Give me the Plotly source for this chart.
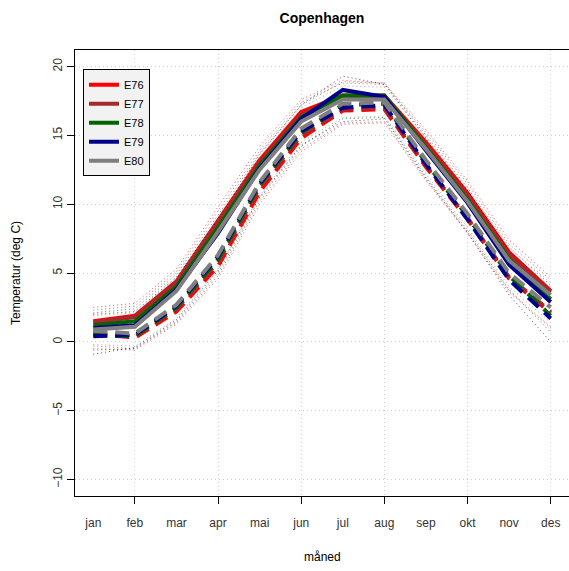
import plotly.graph_objects as go

months = ["jan", "feb", "mar", "apr", "mai", "jun", "jul", "aug", "sep", "okt", "nov", "des"]
month_idx = list(range(1, 13))
even_idx = [2, 4, 6, 8, 10, 12]
y_ticks = [-10, -5, 0, 5, 10, 15, 20]

series_names = ["E76", "E77", "E78", "E79", "E80"]
series_colors = ["#FF0000", "#A52A2A", "#006400", "#00008B", "#7F7F7F"]
dot_colors = ["rgba(255,0,0,0.7)", "rgba(165,42,42,0.7)", "rgba(0,100,0,0.7)",
              "rgba(0,0,139,0.7)", "rgba(127,127,127,0.7)"]

# solid (thick) lines
solid_E76 = [1.5, 1.9, 4.4, 8.8, 13.2, 16.7, 17.9, 17.9, 14.5, 10.8, 6.5, 3.7]
solid_E77 = [1.4, 1.8, 4.3, 8.6, 13.0, 16.5, 17.8, 17.8, 14.3, 10.6, 6.3, 3.6]
solid_E78 = [1.2, 1.5, 4.0, 8.3, 12.8, 16.3, 17.9, 17.9, 14.1, 10.3, 6.0, 3.1]
solid_E79 = [1.0, 1.2, 3.8, 7.9, 12.6, 16.2, 18.3, 17.8, 13.9, 10.1, 5.6, 2.9]
solid_E80 = [0.9, 1.1, 3.7, 8.0, 12.5, 16.0, 17.6, 17.6, 14.0, 10.2, 5.9, 3.4]

# dashed (thick) lines
dash_E76 = [0.6, 0.3, 2.2, 5.5, 10.9, 14.8, 16.8, 16.9, 12.7, 8.9, 4.6, 2.1]
dash_E77 = [0.7, 0.4, 2.4, 5.8, 11.2, 15.0, 16.9, 17.0, 12.8, 9.0, 4.7, 2.2]
dash_E78 = [0.5, 0.4, 2.5, 6.0, 11.4, 15.2, 17.2, 17.3, 13.0, 9.1, 4.8, 1.9]
dash_E79 = [0.4, 0.5, 2.6, 6.2, 11.5, 15.3, 17.0, 17.2, 12.9, 8.9, 4.5, 1.7]
dash_E80 = [0.8, 0.6, 2.7, 6.3, 11.6, 15.5, 17.3, 17.4, 13.2, 9.3, 5.0, 2.5]

# dotted upper band
upper_E76 = [2.5, 2.8, 5.3, 9.8, 14.2, 17.6, 19.0, 18.8, 15.4, 11.7, 7.4, 4.7]
upper_E77 = [2.3, 2.6, 5.1, 9.5, 13.9, 17.4, 18.8, 18.7, 15.2, 11.5, 7.1, 4.5]
upper_E78 = [2.1, 2.4, 4.9, 9.2, 13.7, 17.2, 18.9, 18.8, 15.0, 11.2, 6.9, 4.1]
upper_E79 = [2.0, 2.2, 4.7, 8.9, 13.6, 17.2, 19.3, 18.7, 14.8, 11.0, 6.6, 3.9]
upper_E80 = [1.9, 2.1, 4.6, 8.9, 13.4, 17.0, 18.6, 18.5, 14.9, 11.1, 6.8, 4.3]

# dotted lower band
lower_E76 = [-0.5, -0.6, 1.3, 4.6, 10.0, 13.8, 15.8, 15.9, 11.7, 7.9, 3.6, 1.0]
lower_E77 = [-0.3, -0.5, 1.4, 4.8, 10.2, 14.0, 15.9, 16.0, 11.8, 8.0, 3.7, 1.1]
lower_E78 = [-0.6, -0.5, 1.5, 5.0, 10.4, 14.2, 16.2, 16.3, 12.0, 8.1, 3.8, 0.7]
lower_E79 = [-0.9, -0.4, 1.6, 5.2, 10.5, 14.3, 16.0, 16.2, 11.9, 7.9, 3.4, 0.0]
lower_E80 = [-0.2, -0.3, 1.7, 5.3, 10.6, 14.5, 16.3, 16.4, 12.2, 8.3, 4.0, 1.4]

solids = [solid_E76, solid_E77, solid_E78, solid_E79, solid_E80]
dashes = [dash_E76, dash_E77, dash_E78, dash_E79, dash_E80]
uppers = [upper_E76, upper_E77, upper_E78, upper_E79, upper_E80]
lowers = [lower_E76, lower_E77, lower_E78, lower_E79, lower_E80]

FONT = "Liberation Sans, Arial, sans-serif"
GRID = "#CFCFCF"
fig = go.Figure()

# invisible trace on the overlay axis that carries the month labels
fig.add_trace(go.Scatter(x=month_idx, y=[None] * len(month_idx), xaxis="x2", yaxis="y",
                         mode="lines", showlegend=False, hoverinfo="skip"))

for i, name in enumerate(series_names):
    fig.add_trace(go.Scatter(x=month_idx, y=solids[i], mode="lines", name=name,
                             line=dict(color=series_colors[i], width=4)))
    fig.add_trace(go.Scatter(x=month_idx, y=dashes[i], mode="lines", showlegend=False,
                             line=dict(color=series_colors[i], width=4, dash="14px,8px")))
    for band in (uppers[i], lowers[i]):
        fig.add_trace(go.Scatter(x=month_idx, y=band, mode="lines", showlegend=False,
                                 line=dict(color=dot_colors[i], width=1, dash="1px,3px")))

fig.update_layout(
    width=569, height=571,
    margin=dict(l=75, r=0, t=50, b=75),
    paper_bgcolor="white", plot_bgcolor="white",
    font=dict(family=FONT, size=12, color="#333333"),
    title=dict(text="<b>Copenhagen</b>", x=0.5, xref="paper", xanchor="center",
               y=1 - 18 / 571, yref="container", yanchor="middle",
               font=dict(size=14, color="black", family=FONT)),
    xaxis=dict(range=[0.56, 12.44], tickmode="array", tickvals=even_idx,
               showticklabels=False, ticks="outside", ticklen=7, tickcolor="black",
               showgrid=True, gridcolor=GRID, griddash="1px,3px", gridwidth=1,
               showline=True, linecolor="black", linewidth=1, mirror=True, zeroline=False),
    xaxis2=dict(range=[0.56, 12.44], overlaying="x", anchor="y", side="bottom",
                tickmode="array", tickvals=month_idx, ticktext=months,
                ticks="outside", ticklen=16, tickcolor="rgba(0,0,0,0)",
                showgrid=False, zeroline=False, showline=False,
                tickfont=dict(size=12, color="#333333")),
    yaxis=dict(range=[-11.2, 21.2], tickmode="array", tickvals=y_ticks,
               ticktext=["\u221210", "\u22125", "0", "5", "10", "15", "20"],
               tickangle=-90, ticks="outside", ticklen=7, tickcolor="black",
               showgrid=True, gridcolor=GRID, griddash="1px,3px", gridwidth=1,
               showline=True, linecolor="black", linewidth=1, zeroline=False,
               tickfont=dict(size=12, color="#333333")),
    legend=dict(x=0.0162, y=0.957, xanchor="left", yanchor="top",
                bgcolor="#F2F2F2", bordercolor="black", borderwidth=1,
                entrywidth=80, entrywidthmode="pixels",
                font=dict(size=11, color="black", family=FONT), tracegroupgap=0),
    annotations=[
        dict(text="måned", x=0.5, y=0, xref="paper", yref="paper", xanchor="center",
             yanchor="middle", yshift=-61, showarrow=False,
             font=dict(size=12, color="black", family=FONT)),
        dict(text="Temperatur (deg C)", x=0, y=0.5, xref="paper", yref="paper",
             xanchor="center", yanchor="middle", xshift=-59, textangle=-90,
             showarrow=False, font=dict(size=12, color="black", family=FONT)),
    ],
)

fig.write_html("out.html")
